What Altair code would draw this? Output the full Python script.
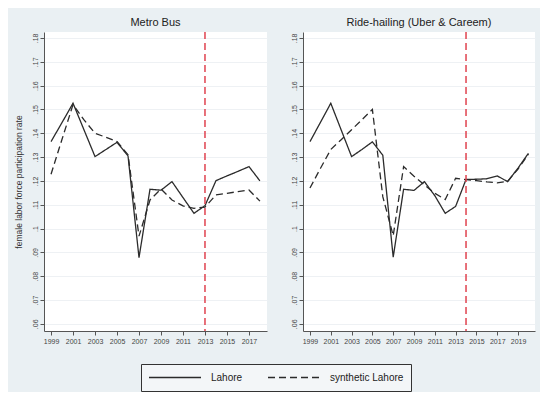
import altair as alt
import pandas as pd

# ---- data ----
series_names = ["Lahore", "synthetic Lahore"]

years_bus = list(range(1999, 2019))
lahore_bus = [0.1365, 0.1445, 0.1526, 0.1414, 0.1302, 0.1332, 0.1362, 0.1305, 0.0878, 0.1165,
              0.1161, 0.1197, 0.1130, 0.1064, 0.1096, 0.1201, 0.1221, 0.1240, 0.1260, 0.1200]
synth_bus = [0.1228, 0.1375, 0.1520, 0.1456, 0.1400, 0.1383, 0.1365, 0.1310, 0.0968, 0.1120,
             0.1166, 0.1120, 0.1095, 0.1085, 0.1090, 0.1141, 0.1148, 0.1155, 0.1162, 0.1115]

years_rh = list(range(1999, 2021))
lahore_rh = [0.1365, 0.1445, 0.1526, 0.1414, 0.1302, 0.1332, 0.1364, 0.1308, 0.0880, 0.1165, 0.1160,
             0.1197, 0.1138, 0.1064, 0.1093, 0.1206, 0.1207, 0.1209, 0.1221, 0.1197, 0.1254, 0.1316]
synth_rh = [0.1170, 0.1252, 0.1332, 0.1373, 0.1415, 0.1457, 0.1500, 0.1134, 0.0970, 0.1260, 0.1220,
            0.1183, 0.1148, 0.1122, 0.1211, 0.1205, 0.1201, 0.1196, 0.1192, 0.1198, 0.1250, 0.1312]

titles = ["Metro Bus", "Ride-hailing (Uber & Careem)"]
treat_years = [2013, 2014]
y_ticks = [0.06, 0.07, 0.08, 0.09, 0.10, 0.11, 0.12, 0.13, 0.14, 0.15, 0.16, 0.17, 0.18]
x_ticks_bus = list(range(1999, 2018, 2))
x_ticks_rh = list(range(1999, 2020, 2))
y_title = "female labor force participation rate"

FONT = "Liberation Sans"
INK = "#2b2b2b"


def long_df(years, a, b):
    return pd.DataFrame({
        "year": years * 2,
        "value": a + b,
        "series": [series_names[0]] * len(years) + [series_names[1]] * len(years),
    })


def panel(df, title, xdom, xticks, vline, width, show_ytitle, show_legend):
    legend = alt.Legend(
        title=None, orient="none", legendX=97, legendY=332, direction="horizontal",
        symbolType="stroke", symbolSize=2704, symbolStrokeWidth=1.3, symbolStrokeColor=INK,
        clipHeight=13,
        labelFontSize=10, labelFont=FONT, labelColor="#222", labelOffset=9,
        columnPadding=24, padding=7, strokeColor="#333", fillColor="#f3f6f8",
    ) if show_legend else None
    x_axis = alt.Axis(values=xticks, format="d", title=None, grid=False,
                      labelFontSize=7, labelFont=FONT, labelColor="#444",
                      tickSize=4, tickColor="#555", domainColor="#555",
                      labelPadding=2, labelFlush=False, labelOverlap=False,
                      labelBound=False)
    x_scale = alt.Scale(domain=xdom, nice=False, zero=False)
    lines = alt.Chart(df).mark_line(strokeWidth=1.3, color=INK).encode(
        x=alt.X("year:Q", scale=x_scale, axis=x_axis),
        y=alt.Y("value:Q",
                scale=alt.Scale(domain=[0.057, 0.1825], nice=False, zero=False),
                axis=alt.Axis(values=y_ticks, title=y_title if show_ytitle else None,
                              labelExpr="replace(format(datum.value, '.2~f'), '0.', '.')",
                              labelAngle=270, labelFontSize=7, labelFont=FONT, labelColor="#444",
                              labelAlign="center", labelBaseline="bottom", labelOverlap=False,
                              tickSize=4, tickColor="#555", domainColor="#555", labelPadding=2,
                              grid=True, gridColor="#eef1f4", gridWidth=1,
                              titleFontSize=8.5, titleFont=FONT, titleFontWeight="normal",
                              titleColor="#333", titlePadding=8)),
        strokeDash=alt.StrokeDash("series:N",
                                  scale=alt.Scale(domain=series_names, range=[[1, 0], [7, 4]]),
                                  legend=legend),
    )
    rule = alt.Chart(pd.DataFrame({"year": [vline]})).mark_rule(
        color="#e0434f", strokeDash=[7, 4], strokeWidth=1.5
    ).encode(x=alt.X("year:Q", scale=x_scale, axis=x_axis))
    return alt.layer(lines, rule).properties(
        width=width, height=299,
        title=alt.TitleParams(title, fontSize=11, font=FONT, fontWeight="normal",
                              color="#222", offset=3),
    )


left = panel(long_df(years_bus, lahore_bus, synth_bus), titles[0], [1998.36, 2018.64],
             x_ticks_bus, treat_years[0], 223, True, True)
right = panel(long_df(years_rh, lahore_rh, synth_rh), titles[1], [1998.33, 2020.63],
              x_ticks_rh, treat_years[1], 232, False, False)

chart = alt.hconcat(left, right, spacing=22).resolve_scale(strokeDash="shared").properties(
    padding={"left": 5, "top": 9, "right": 5, "bottom": 0},
    background="#eaf0f3",
).configure_view(stroke=None, fill="white").configure_axis(labelOverlap=False)

chart.save("out.html", embed_options={"renderer": "svg", "actions": False})
